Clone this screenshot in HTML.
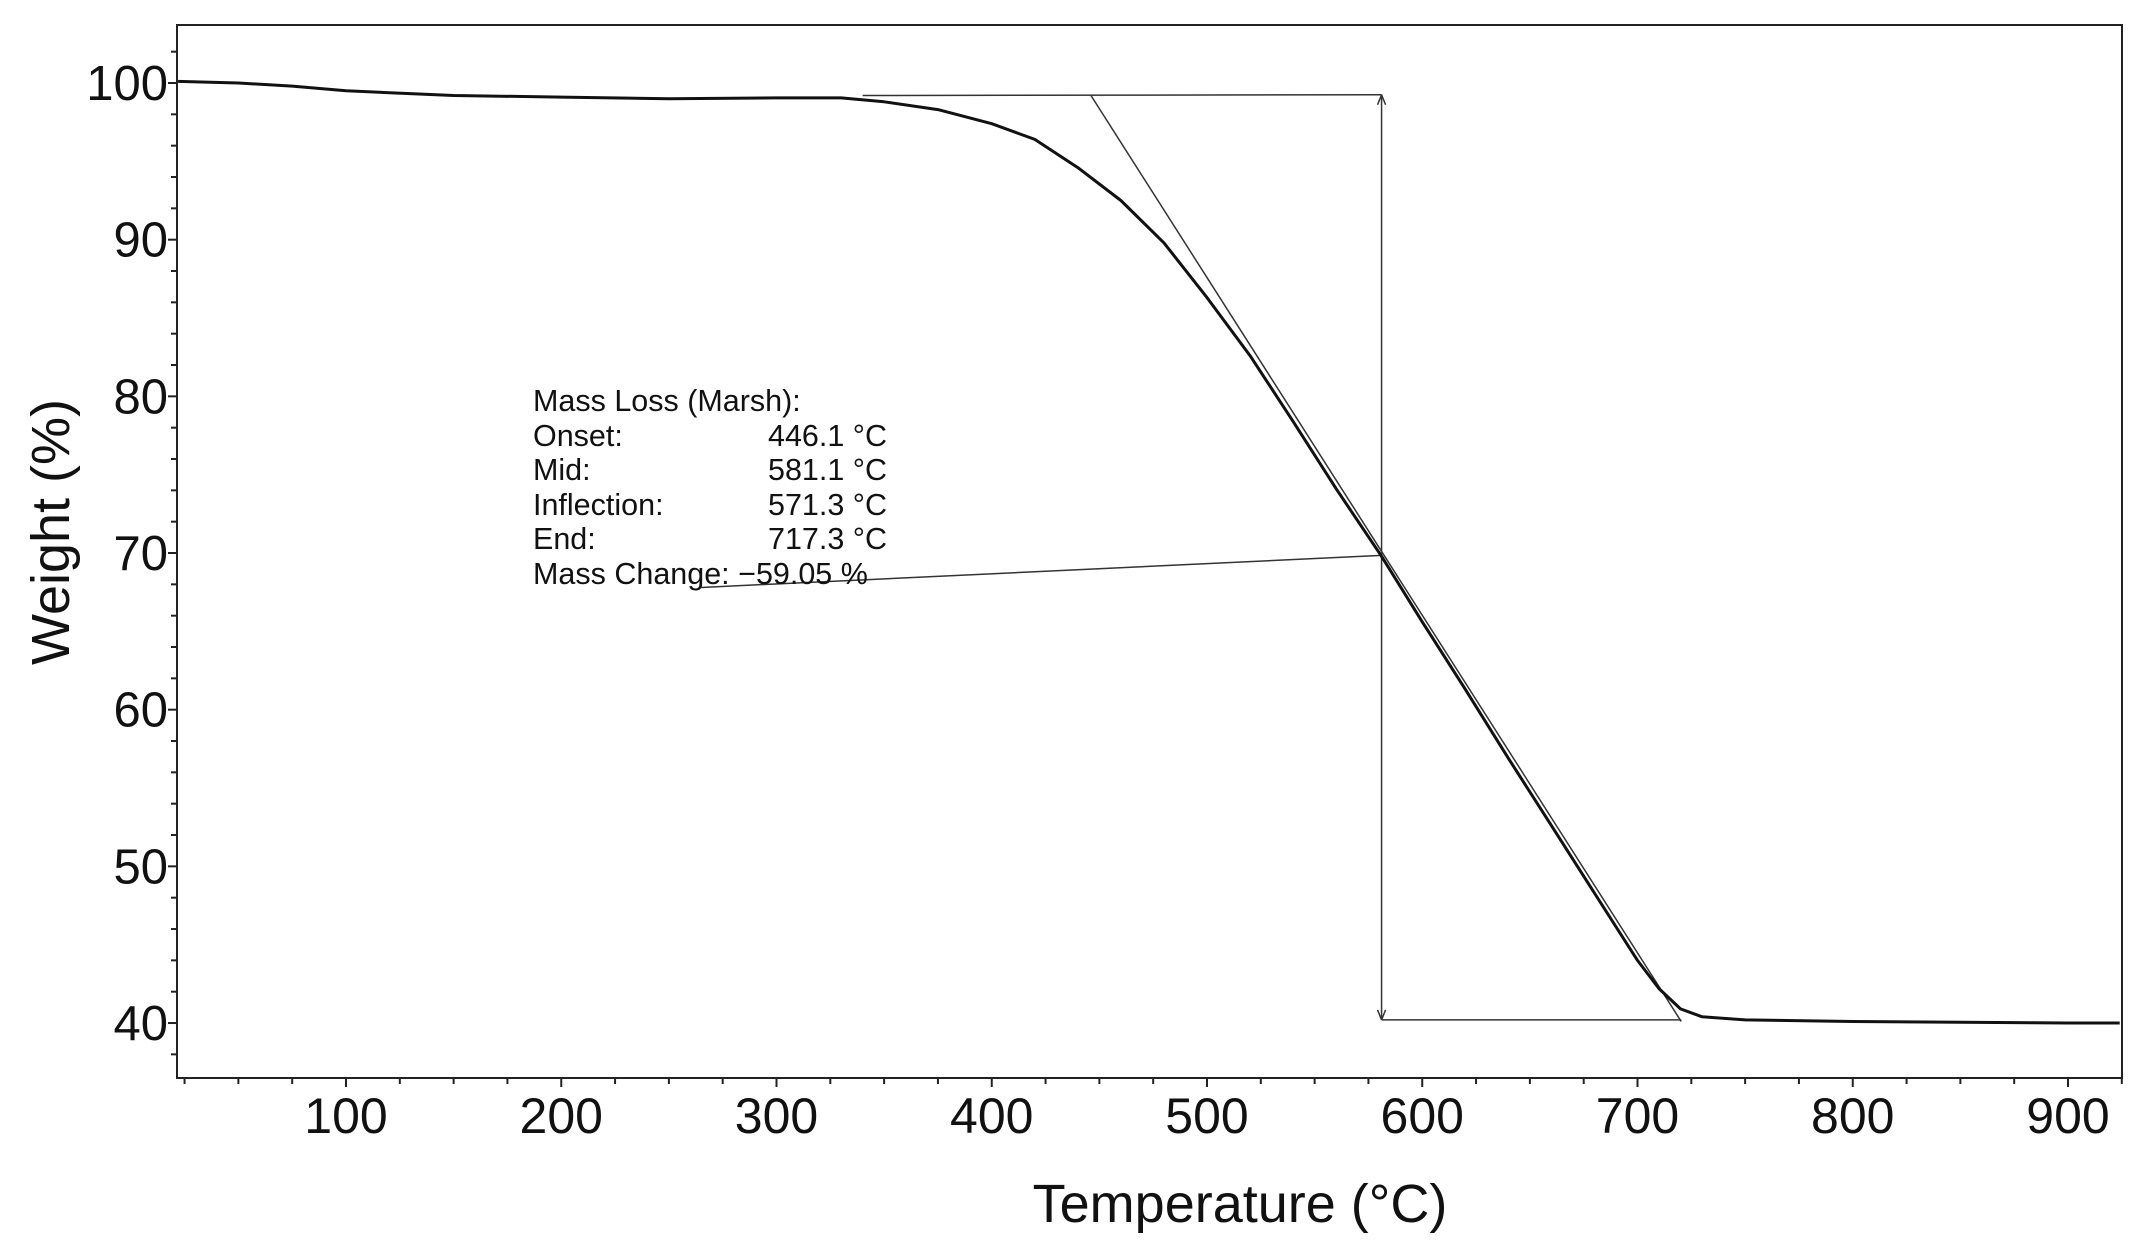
<!DOCTYPE html>
<html><head><meta charset="utf-8"><style>
body{margin:0;background:#fff}
svg{display:block;font-family:"Liberation Sans",Arial,sans-serif}
</style></head><body>
<svg id="chart" width="2152" height="1255" viewBox="0 0 2152 1255" xmlns="http://www.w3.org/2000/svg">
<rect width="2152" height="1255" fill="#fff"/>
<g id="plot"></g>
</svg>
<script>
const temps = [22,50,75,100,150,200,250,300,330,350,375,400,420,440,460,480,500,520,540,560,581,600,620,640,660,680,700,710,720,730,750,800,850,900,924];
const weights = [100.1,100.0,99.8,99.5,99.2,99.1,99.0,99.05,99.05,98.8,98.3,97.4,96.4,94.6,92.5,89.8,86.3,82.6,78.4,74.1,69.8,65.6,61.3,56.9,52.6,48.3,44.0,42.2,40.9,40.4,40.2,40.1,40.05,40.0,40.0];
const xTicks = [100,200,300,400,500,600,700,800,900];
const yTicks = [40,50,60,70,80,90,100];
const onsetT = 446.1, midT = 581.1, endT = 717.3;
const upperW = 99.2, lowerW = 40.2, midW = 69.85;

const L=177,R=2122,T=25,B=1078;
function xs(t){return 346+(t-100)*2.1525;}
function ys(w){return 83+(100-w)*15.667;}
const NS="http://www.w3.org/2000/svg";
const g=document.getElementById('plot');
function el(tag,attrs,parent){const e=document.createElementNS(NS,tag);for(const k in attrs)e.setAttribute(k,attrs[k]);(parent||g).appendChild(e);return e;}

let frame=el('rect',{x:L,y:T,width:R-L,height:B-T,fill:'none',stroke:'#222','stroke-width':2});



for(let t=25;t<=925;t+=25){
  const major=t%100===0;
  const tk=el('line',{x1:xs(t),x2:xs(t),y1:B,y2:B+(major?9:6),stroke:'#222','stroke-width':2});
  
  
}
xTicks.forEach(t=>{
  const tx=el('text',{x:xs(t),y:B+55,'font-size':50,'text-anchor':'middle',fill:'#111'});
  tx.textContent=t;
  
  
});
for(let w=36;w<=104;w+=2){
  const major=w%10===0;
  const y=ys(w); if(y<T||y>B)continue;
  const tk=el('line',{x1:L,x2:L-(major?9:6),y1:y,y2:y,stroke:'#222','stroke-width':2});
  
  
}
yTicks.forEach(w=>{
  const tx=el('text',{x:168,y:ys(w)+17,'font-size':49,'text-anchor':'end',fill:'#111'});
  tx.textContent=w;
  
  
});
let xt=el('text',{x:1240,y:1222,'font-size':54,'text-anchor':'middle',fill:'#111'});
xt.textContent='Temperature (°C)';


let yt=el('text',{x:0,y:0,'font-size':54,'text-anchor':'middle',fill:'#111',transform:'translate(69,532) rotate(-90)'});
yt.textContent='Weight (%)';



function ln(x1,y1,x2,y2,name,w){
  const l=el('line',{x1:x1,y1:y1,x2:x2,y2:y2,stroke:'#333','stroke-width':w||1.5});
  
  
}
ln(xs(340),ys(upperW),xs(midT),ys(upperW+0.05),'upper-baseline');
ln(xs(midT),ys(lowerW),xs(endT+3),ys(lowerW),'lower-baseline');
ln(xs(midT),ys(upperW+0.05),xs(midT),ys(lowerW),'mass-change-arrow');
ln(xs(onsetT),ys(upperW),xs(endT+3),ys(lowerW-0.1),'onset-tangent');
ln(xs(265),ys(67.8),xs(midT),ys(midW),'mid-line');
const ah=[[xs(midT)-4,ys(upperW+0.05)+10,xs(midT),ys(upperW+0.05)],[xs(midT)+4,ys(upperW+0.05)+10,xs(midT),ys(upperW+0.05)],[xs(midT)-4,ys(lowerW)-10,xs(midT),ys(lowerW)],[xs(midT)+4,ys(lowerW)-10,xs(midT),ys(lowerW)]];
ah.forEach(a=>ln(a[0],a[1],a[2],a[3],'arrow-head'));

let d='';
temps.forEach((t,i)=>{d+=(i?'L':'M')+xs(t).toFixed(1)+','+ys(weights[i]).toFixed(1);});
let c=el('path',{d:d,fill:'none',stroke:'#111','stroke-width':3,'stroke-linejoin':'round'});


</script>
<div style="position:absolute;left:533px;top:384px;font-family:'Liberation Sans',Arial,sans-serif;font-size:30.5px;line-height:34.6px;color:#111">
<div>Mass Loss (Marsh):</div>
<div><span style="display:inline-block;width:235px">Onset:</span>446.1 °C</div>
<div><span style="display:inline-block;width:235px">Mid:</span>581.1 °C</div>
<div><span style="display:inline-block;width:235px">Inflection:</span>571.3 °C</div>
<div><span style="display:inline-block;width:235px">End:</span>717.3 °C</div>
<div>Mass Change: −59.05 %</div>
</div>
</body></html>
